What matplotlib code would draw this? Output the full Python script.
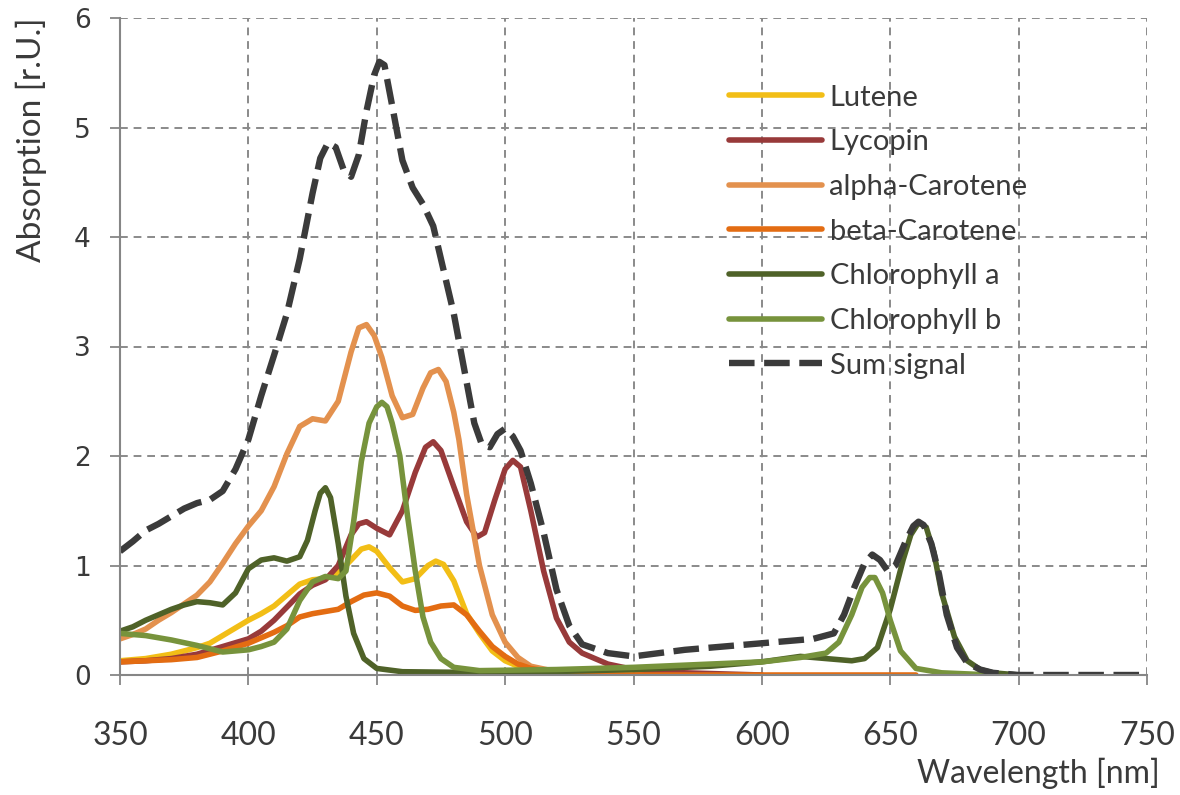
import numpy as np
import matplotlib
matplotlib.use("Agg")
import matplotlib.pyplot as plt

# Absorption spectra of plant pigments (relative units) read per wavelength
lutene_wl = [350, 355, 360, 365, 370, 375, 380, 385, 390, 395, 400, 405, 410, 415, 420, 425,
             430, 435, 440, 444, 447, 450, 455, 460, 465, 470, 473, 476, 480, 485, 490, 495,
             500, 505, 510, 520, 540, 560]
lutene = [0.13, 0.14, 0.15, 0.17, 0.19, 0.22, 0.25, 0.29, 0.36, 0.43, 0.50, 0.56, 0.63, 0.73,
          0.83, 0.87, 0.88, 0.93, 1.05, 1.15, 1.17, 1.13, 0.98, 0.85, 0.88, 1.00, 1.04, 1.01,
          0.86, 0.56, 0.38, 0.22, 0.13, 0.08, 0.05, 0.02, 0.0, 0.0]

lycopin_wl = [350, 360, 370, 380, 390, 400, 405, 410, 415, 420, 425, 430, 435, 440, 443, 446,
              450, 455, 460, 465, 469, 472, 475, 480, 485, 489, 492, 496, 500, 503, 506, 510,
              515, 520, 525, 530, 540, 550, 570, 600]
lycopin = [0.12, 0.13, 0.15, 0.19, 0.26, 0.33, 0.40, 0.50, 0.62, 0.74, 0.82, 0.87, 1.00, 1.28,
           1.38, 1.40, 1.34, 1.28, 1.50, 1.85, 2.08, 2.13, 2.05, 1.72, 1.40, 1.26, 1.30, 1.60,
           1.88, 1.96, 1.90, 1.50, 0.95, 0.52, 0.30, 0.20, 0.10, 0.05, 0.02, 0.0]

alpha_wl = [350, 355, 360, 365, 370, 375, 380, 385, 390, 395, 400, 405, 410, 415, 420, 425,
            430, 435, 440, 443, 446, 449, 452, 456, 460, 464, 468, 471, 474, 477, 480, 482,
            485, 490, 495, 500, 505, 510, 520, 540]
alpha_carotene = [0.33, 0.37, 0.42, 0.50, 0.57, 0.65, 0.73, 0.85, 1.02, 1.20, 1.36, 1.50, 1.72,
                  2.02, 2.27, 2.34, 2.32, 2.50, 2.95, 3.17, 3.20, 3.10, 2.90, 2.55, 2.35, 2.38,
                  2.62, 2.76, 2.79, 2.68, 2.40, 2.15, 1.65, 1.00, 0.55, 0.30, 0.16, 0.08, 0.03,
                  0.0]

beta_wl = [350, 360, 370, 380, 390, 400, 405, 410, 415, 420, 425, 430, 435, 440, 445, 450, 455,
           460, 465, 470, 475, 480, 485, 490, 495, 500, 505, 510, 520, 540, 600, 660]
beta_carotene = [0.12, 0.13, 0.14, 0.16, 0.22, 0.29, 0.34, 0.39, 0.45, 0.53, 0.56, 0.58, 0.60,
                 0.67, 0.73, 0.75, 0.72, 0.63, 0.59, 0.60, 0.63, 0.64, 0.55, 0.40, 0.26, 0.17,
                 0.10, 0.06, 0.02, 0.0, 0.0, 0.0]

chl_a_wl = [350, 355, 360, 365, 370, 375, 380, 385, 390, 395, 400, 405, 410, 415, 420, 423, 426,
            428, 430, 432, 435, 438, 441, 445, 450, 460, 500, 550, 580, 600, 615, 625, 635, 640,
            645, 650, 655, 658, 661, 664, 667, 670, 675, 680, 685, 690, 700]
chl_a = [0.40, 0.44, 0.50, 0.55, 0.60, 0.64, 0.67, 0.66, 0.64, 0.75, 0.97, 1.05, 1.07, 1.04,
         1.08, 1.23, 1.50, 1.66, 1.71, 1.62, 1.20, 0.72, 0.38, 0.15, 0.06, 0.03, 0.02, 0.05,
         0.08, 0.12, 0.17, 0.15, 0.13, 0.15, 0.25, 0.60, 1.05, 1.28, 1.39, 1.35, 1.12, 0.75,
         0.35, 0.13, 0.05, 0.02, 0.0]

chl_b_wl = [350, 360, 370, 380, 390, 400, 405, 410, 415, 420, 425, 430, 435, 438, 441, 444, 447,
            450, 452, 454, 456, 459, 462, 465, 468, 471, 475, 480, 490, 520, 550, 580, 600, 615,
            625, 630, 635, 639, 642, 644, 647, 650, 654, 660, 670, 690]
chl_b = [0.38, 0.36, 0.32, 0.27, 0.21, 0.23, 0.26, 0.30, 0.42, 0.68, 0.85, 0.90, 0.88, 0.95,
         1.40, 1.95, 2.30, 2.45, 2.49, 2.45, 2.30, 2.00, 1.45, 0.95, 0.53, 0.30, 0.15, 0.07,
         0.04, 0.05, 0.07, 0.10, 0.12, 0.16, 0.20, 0.30, 0.55, 0.80, 0.89, 0.89, 0.75, 0.50,
         0.22, 0.06, 0.02, 0.0]

sum_wl = [350, 355, 360, 365, 370, 375, 380, 385, 390, 395, 400, 405, 410, 415, 420, 425, 428,
          431, 434, 437, 440, 443, 446, 449, 451, 453, 456, 460, 464, 468, 472, 476, 480, 484,
          488, 491, 494, 497, 500, 503, 506, 510, 515, 520, 525, 530, 540, 550, 560, 570, 580,
          590, 600, 610, 620, 628, 632, 636, 640, 643, 646, 649, 652, 656, 659, 661, 663, 666,
          669, 672, 676, 680, 685, 690, 700, 750]
sum_signal = [1.13, 1.22, 1.32, 1.38, 1.45, 1.52, 1.57, 1.60, 1.68, 1.88, 2.15, 2.55, 2.92, 3.30,
              3.80, 4.40, 4.72, 4.86, 4.82, 4.62, 4.55, 4.75, 5.15, 5.48, 5.60, 5.57, 5.20, 4.70,
              4.45, 4.30, 4.10, 3.70, 3.30, 2.80, 2.30, 2.10, 2.08, 2.20, 2.25, 2.18, 2.05, 1.75,
              1.30, 0.78, 0.45, 0.28, 0.20, 0.17, 0.20, 0.23, 0.25, 0.27, 0.29, 0.31, 0.33, 0.38,
              0.55, 0.80, 1.02, 1.10, 1.05, 0.95, 1.00, 1.22, 1.36, 1.40, 1.37, 1.20, 0.92, 0.55,
              0.25, 0.11, 0.05, 0.02, 0.0, 0.0]

series = [
    ("Lutene", lutene_wl, lutene, "#F2BE16"),
    ("Lycopin", lycopin_wl, lycopin, "#983A3A"),
    ("alpha-Carotene", alpha_wl, alpha_carotene, "#E3914E"),
    ("beta-Carotene", beta_wl, beta_carotene, "#E36C12"),
    ("Chlorophyll a", chl_a_wl, chl_a, "#4F6228"),
    ("Chlorophyll b", chl_b_wl, chl_b, "#77933C"),
]

text_color = "#3a3a3a"
grid_color = "#8a8a8a"

fig = plt.figure(figsize=(11.8, 7.95), dpi=100)
ax = fig.add_axes([120 / 1180, 1 - 675 / 795, 1027 / 1180, 657 / 795])

for label, wl, values, color in series:
    ax.plot(wl, values, color=color, lw=4.0, label=label,
            solid_joinstyle="round", solid_capstyle="round")

ax.plot(sum_wl, sum_signal, color="#3b3b3b", lw=4.6, label="Sum signal",
        dashes=(4.0, 1.5), dash_capstyle="butt", dash_joinstyle="round")

ax.set_xlim(350, 750)
ax.set_ylim(0, 6)
ax.set_xticks(np.arange(350, 751, 50))
ax.set_yticks(np.arange(0, 7, 1))

ax.grid(True, color=grid_color, linestyle=(0, (4, 3)), lw=1.4)
ax.set_axisbelow(True)
for side in ("top", "right"):
    ax.spines[side].set_visible(False)
for side in ("left", "bottom"):
    ax.spines[side].set_color("#868686")
    ax.spines[side].set_linewidth(1.5)

ax.tick_params(axis="both", direction="out", length=7, width=1.3, color="#868686")
ax.tick_params(axis="x", pad=26, labelsize=23, labelcolor=text_color)
ax.tick_params(axis="y", pad=14, labelsize=19, labelcolor=text_color)
for lab in ax.get_xticklabels():
    lab.set_fontfamily("Lato")
for lab in ax.get_yticklabels():
    lab.set_fontfamily("DejaVu Sans")

leg = ax.legend(loc="upper left", bbox_to_anchor=(714 / 1180, 1 - 70 / 795),
                bbox_transform=fig.transFigure, frameon=False,
                handlelength=3.2, handletextpad=0.26, labelspacing=0.64, borderpad=0,
                prop={"family": "Lato", "size": 21})
for txt in leg.get_texts():
    txt.set_color(text_color)

fig.text(31 / 1180, 1 - 140 / 795, "Absorption [r.U.]", rotation=90, ha="center",
         va="center", fontsize=24, family="Lato", color=text_color)
fig.text(1160 / 1180, 1 - 773 / 795, "Wavelength [nm]", ha="right", va="center",
         fontsize=23, family="Lato", color=text_color)

fig.savefig("out.png", dpi=100)
